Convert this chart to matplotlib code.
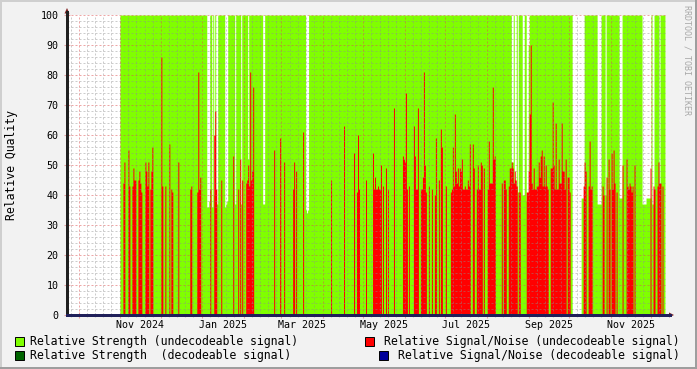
import numpy as np
import matplotlib
matplotlib.use("Agg")
import matplotlib.pyplot as plt
import matplotlib.dates as mdates
from matplotlib.patches import Rectangle, Polygon
from matplotlib.lines import Line2D
from datetime import datetime, timedelta

plt.rcParams['lines.scale_dashes'] = False
MONO = 'DejaVu Sans Mono'

# one sample every 17.84 hours, starting here
START = datetime(2024, 9, 22, 7, 0)
STEP_H = 17.84
N_SAMPLES = 600

# Relative Strength (undecodeable): 100 from first to last sample, with dips
strength_first = 53
strength_last = 598
strength_dips = [
    (140, [36, 36, 38]), (145, [36]), (147, [40]), (149, [37, 37]),
    (158, [36, 37, 38]), (168, [37]), (174, [37]), (181, [52]),
    (196, [37, 37]), (239, [35, 34, 35]), (445, [51, 51]), (448, [41, 41]),
    (451, [41]), (456, [40, 40]), (460, [38, 38]), (462, [90]),
    (515, [39, 39, 39]), (531, [37, 37, 37, 37]), (539, [40]),
    (553, [39, 39, 39]), (576, [37, 37, 37, 37]), (580, [39, 39, 39, 39, 39]),
    (586, [37, 37]), (593, [38]),
]
strength_missing = [(506, 514)]

# Relative Signal/Noise (undecodeable): runs of consecutive samples
snr_runs = [
    (56, [44, 51]), (61, [55, 43]), (65, [43, 49, 45, 45]), (71, [45, 48, 44, 41]),
    (78, [51, 48, 43, 51]), (83, [42, 48, 56]), (94, [86, 43]), (98, [43]),
    (102, [57]), (104, [42, 41]), (111, [51]), (123, [42, 43]),
    (130, [41, 81, 42, 46]), (143, [42]), (147, [60, 68, 42]), (154, [45]),
    (166, [53]), (171, [42]), (173, [52]), (175, [45]),
    (179, [44, 45, 50, 43, 81, 45, 48, 76]), (207, [55]), (213, [59]), (217, [51]),
    (226, [42, 51]), (229, [48]), (236, [61]), (264, [45]), (277, [63]),
    (287, [54]), (290, [41, 60, 42]), (299, [45]),
    (306, [54, 42, 46, 42, 42, 43, 42, 42, 50]), (316, [43]), (319, [49]),
    (321, [42]), (327, [69]), (336, [53, 52, 51, 74, 42]), (342, [43]),
    (347, [63, 53, 42, 42, 69]), (354, [42, 42, 46, 81, 50, 41]), (362, [43]),
    (365, [42]), (368, [40, 59]), (372, [45]), (374, [62, 56]), (379, [43]),
    (384, [41, 42, 56, 43, 67, 48, 44, 49, 43, 49, 48, 52, 42, 42, 43, 42, 42, 45, 43, 57]),
    (406, [57, 49]), (410, [42, 50, 42, 42, 51, 50]), (417, [49]),
    (421, [42, 58, 44, 44, 44, 76, 52, 53]), (435, [44]), (437, [45, 45, 42]),
    (442, [43, 49, 49, 51, 49, 44, 48, 45, 43]), (452, [41, 41]),
    (460, [41, 41, 48, 67, 90, 44, 42, 49, 42, 42, 43, 43, 51, 46, 53, 55, 43, 53, 43, 50, 43, 42]),
    (484, [49, 49, 71, 50, 42, 64, 42, 42, 52, 44, 44, 64, 48, 48, 42, 52]),
    (501, [46, 46, 41]), (517, [43, 51, 48]), (522, [43, 58, 42, 43]),
    (536, [43, 40]), (540, [46]), (542, [52, 42]), (545, [54, 42, 55, 44]),
    (550, [41]), (556, [50]), (560, [52, 43, 42, 44, 43, 41, 43]), (568, [50]),
    (584, [49]), (587, [43, 42]), (591, [43, 51, 44, 44]), (596, [43]),
]

# decodeable signal: nothing received in this period
strength_dec_runs = []
snr_dec_runs = []

C_STRENGTH = '#80FF00'
C_SNR = '#FF0000'
C_STRENGTH_DEC = '#006400'
C_SNR_DEC = '#000099'
C_BACK = '#F2F2F2'
C_GRID = (0.56, 0.56, 0.56, 0.45)
C_MGRID = (0.87, 0.31, 0.31, 0.50)
C_ARROW = '#801F1F'


def build(runs):
    v = np.zeros(N_SAMPLES)
    for i0, vals in runs:
        v[i0:i0 + len(vals)] = vals
    return v


strength = np.zeros(N_SAMPLES)
strength[strength_first:strength_last + 1] = 100
strength = np.where(build(strength_dips) > 0, build(strength_dips), strength)
for a, b in strength_missing:
    strength[a:b + 1] = 0
snr = build(snr_runs)
strength_dec = build(strength_dec_runs)
snr_dec = build(snr_dec_runs)

t0 = mdates.date2num(START)
t = t0 + np.arange(N_SAMPLES + 1) * STEP_H / 24.0

W, H = 697, 369
fig = plt.figure(figsize=(W / 100, H / 100), dpi=100, facecolor=C_BACK)


def px(x, y):
    return (x / W, 1 - y / H)


ax = fig.add_axes([67 / W, (H - 315) / H, 599 / W, 300 / H])
ax.set_facecolor('white')
for s in ax.spines.values():
    s.set_visible(False)

for vals, col in [(strength, C_STRENGTH), (strength_dec, C_STRENGTH_DEC),
                  (snr, C_SNR), (snr_dec, C_SNR_DEC)]:
    ax.fill_between(t, 0, np.append(vals, vals[-1]), step='post', color=col,
                    linewidth=0, antialiased=False, zorder=2)

ax.set_xlim(t[0], t[-1])
ax.set_ylim(0, 100)

# dotted grid lines on top of the data
dash = dict(linestyle=(0, (1.44, 1.44)), linewidth=0.72, zorder=5)
for y in range(2, 101, 2):
    ax.axhline(y, color=C_MGRID if y % 10 == 0 else C_GRID, **dash)

month_starts = []
d = datetime(2024, 9, 1)
while d < datetime(2026, 1, 1):
    month_starts.append(d)
    d = datetime(d.year + d.month // 12, d.month % 12 + 1, 1)

minor_days = []
for m in month_starts:
    for k in (6, 12, 18, 24):
        minor_days.append(m + timedelta(days=k))

xmaj = [mdates.date2num(m) for m in month_starts if t[0] < mdates.date2num(m) < t[-1]]
xmin = [mdates.date2num(m) for m in minor_days if t[0] < mdates.date2num(m) < t[-1]]
for x in xmin:
    ax.axvline(x, color=C_GRID, **dash)
for x in xmaj:
    ax.axvline(x, color=C_MGRID, **dash)

ax.set_xticks(xmaj)
ax.set_xticks(xmin, minor=True)
ax.tick_params(axis='x', which='major', direction='inout', length=4, width=0.8,
               color=C_MGRID, labelbottom=False)
ax.tick_params(axis='x', which='minor', direction='inout', length=3, width=0.8,
               color=C_GRID, labelbottom=False)
ax.set_yticks(range(0, 101, 10))
ax.set_yticklabels([str(v) for v in range(0, 101, 10)], fontfamily=MONO, fontsize=7.2)
ax.tick_params(axis='y', direction='inout', length=4, width=0.8, color=C_MGRID, pad=4)

# month labels centred inside the month
label_months = [datetime(2024, 11, 1), datetime(2025, 1, 1), datetime(2025, 3, 1),
                datetime(2025, 5, 1), datetime(2025, 7, 1), datetime(2025, 9, 1),
                datetime(2025, 11, 1)]
for m in label_months:
    nxt = datetime(m.year + m.month // 12, m.month % 12 + 1, 1)
    xc = (mdates.date2num(m) + mdates.date2num(nxt)) / 2
    ax.text(xc, -10 / 300, m.strftime('%b %Y'), transform=ax.get_xaxis_transform(),
            ha='center', va='center', fontfamily=MONO, fontsize=7.2)

# axes and arrows
fig.add_artist(Line2D([67 / W, 67 / W], [px(0, 315)[1], px(0, 12)[1]],
                      color='#1F1F1F', linewidth=0.8, antialiased=False))
fig.add_artist(Line2D([67 / W, 670 / W], [px(0, 315)[1], px(0, 315)[1]],
                      color='#20205A', linewidth=0.8, antialiased=False))
fig.add_artist(Polygon([px(64.5, 13.5), px(69.5, 13.5), px(67, 8)], closed=True,
                       transform=fig.transFigure, color=C_ARROW, linewidth=0))
fig.add_artist(Polygon([px(669, 312.5), px(669, 317.5), px(674, 315)], closed=True,
                       transform=fig.transFigure, color=C_ARROW, linewidth=0))

fig.text(*px(12, 165), 'Relative Quality', rotation=90, ha='center', va='center',
         fontfamily=MONO, fontsize=8.3)
fig.text(*px(687, 60), 'RRDTOOL / TOBI OETIKER', rotation=270, ha='center',
         va='center', fontfamily=MONO, fontsize=6, color='#A8A8A8')

# legend
legend_left = [('Relative Strength (undecodeable signal)', C_STRENGTH, 341),
               ('Relative Strength  (decodeable signal)', C_STRENGTH_DEC, 355)]
legend_right = [('Relative Signal/Noise (undecodeable signal)', C_SNR, 341),
                ('Relative Signal/Noise (decodeable signal)', C_SNR_DEC, 355)]
for label, col, y in legend_left:
    fig.add_artist(Rectangle(px(15, y + 4.5), 9 / W, 9 / H, transform=fig.transFigure,
                             facecolor=col, edgecolor='black', linewidth=0.7))
    fig.text(*px(30, y), label, ha='left', va='center', fontfamily=MONO, fontsize=8.3)
for label, col, y in legend_right:
    n = len(label)
    x_sq = 680 - n * 6.98 - 15
    fig.add_artist(Rectangle(px(x_sq, y + 4.5), 9 / W, 9 / H, transform=fig.transFigure,
                             facecolor=col, edgecolor='black', linewidth=0.7))
    fig.text(*px(680, y), label, ha='right', va='center', fontfamily=MONO, fontsize=8.3)

# 3d frame
fig.add_artist(Rectangle((0, 1 - 2 / H), 1, 2 / H, transform=fig.transFigure,
                         color='#CFCFCF', linewidth=0))
fig.add_artist(Rectangle((0, 0), 2 / W, 1, transform=fig.transFigure,
                         color='#CFCFCF', linewidth=0))
fig.add_artist(Rectangle((0, 0), 1, 2 / H, transform=fig.transFigure,
                         color='#9E9E9E', linewidth=0))
fig.add_artist(Rectangle((1 - 2 / W, 0), 2 / W, 1, transform=fig.transFigure,
                         color='#9E9E9E', linewidth=0))

fig.savefig('out.png', dpi=100, facecolor=C_BACK)
